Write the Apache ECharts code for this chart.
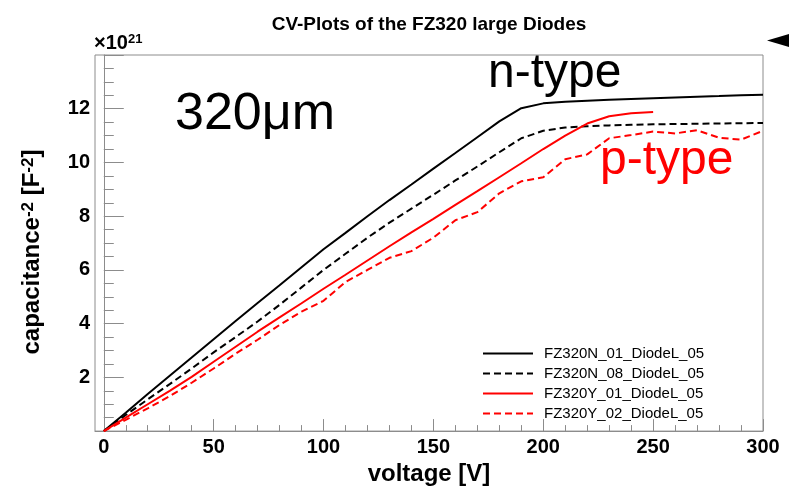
<!DOCTYPE html>
<html>
<head>
<meta charset="utf-8">
<script src="https://cdn.jsdelivr.net/npm/echarts@6/dist/echarts.min.js"></script>
<style>html,body{margin:0;padding:0;background:#fff;}#c{width:789px;height:491px;}</style>
</head>
<body>
<div id="c"></div>
<script>
// voltage grid [V]
var voltage = [0,10,20,30,40,50,60,70,80,90,100,110,120,130,140,150,160,170,180,190,200,210,220,230,240,250,260,270,280,290,300];
var voltageY01 = [0,10,20,30,40,50,60,70,80,90,100,110,120,130,140,150,160,170,180,190,200,210,220,230,240,250];
// capacitance^-2 in units of 1e21 F^-2
var n01 = [0,0.68,1.38,2.06,2.74,3.42,4.1,4.77,5.43,6.1,6.77,7.38,8.0,8.6,9.18,9.77,10.35,10.94,11.53,12.02,12.2,12.26,12.3,12.33,12.36,12.39,12.42,12.45,12.47,12.5,12.52];
var n08 = [0,0.6,1.18,1.75,2.33,2.93,3.5,4.08,4.7,5.35,6.0,6.6,7.2,7.76,8.28,8.8,9.33,9.85,10.38,10.9,11.18,11.3,11.35,11.38,11.4,11.42,11.43,11.44,11.45,11.46,11.47];
var y01 = [0,0.5,1.0,1.5,2.02,2.58,3.14,3.7,4.23,4.76,5.3,5.82,6.35,6.88,7.4,7.9,8.42,8.93,9.45,9.97,10.5,11.0,11.45,11.72,11.83,11.88];
var y02 = [0,0.42,0.85,1.3,1.8,2.33,2.88,3.4,3.95,4.45,4.85,5.55,6.0,6.45,6.7,7.2,7.85,8.15,8.85,9.3,9.45,10.12,10.3,10.9,11.02,11.15,11.08,11.2,10.92,10.85,11.18];
var seriesNames = ['FZ320N_01_DiodeL_05','FZ320N_08_DiodeL_05','FZ320Y_01_DiodeL_05','FZ320Y_02_DiodeL_05'];
var xMajor = [0,50,100,150,200,250,300];
var xMinor = [10,20,30,40,60,70,80,90,110,120,130,140,160,170,180,190,210,220,230,240,260,270,280,290];
var yLabels = [2,4,6,8,10,12];

function pairs(xs, ys){ return ys.map(function(v,i){ return [xs[i], v]; }); }

var FONT = 'Liberation Sans';
var GREY = '#8c8c8c';
var chart = echarts.init(document.getElementById('c'), null, {renderer:'canvas'});

function mk(name, xs, ys, color, dashed){
  return {
    name: name, type: 'line', xAxisIndex: 0, yAxisIndex: 0,
    data: pairs(xs, ys), showSymbol: false, symbol: 'none', smooth: false,
    lineStyle: {color: color, width: 2, type: dashed ? [7,4] : 'solid'},
    itemStyle: {color: color},
    emphasis: {disabled: true}
  };
}

chart.setOption({
  animation: false,
  backgroundColor: '#fff',
  title: {
    text: 'CV-Plots of the FZ320 large Diodes',
    left: 424, top: 10, textAlign: 'center',
    textStyle: {fontFamily: FONT, fontWeight: 'bold', fontSize: 19, color: '#000'}
  },
  grid: {left: 95, top: 55, right: 26, bottom: 51, show: true, borderColor: GREY, borderWidth: 1, backgroundColor: 'transparent'},
  legend: {
    orient: 'vertical', left: 482, top: 346, padding: 0,
    itemWidth: 50, itemHeight: 14, itemGap: 5,
    selectedMode: false,
    itemStyle: {opacity: 0},
    textStyle: {fontFamily: FONT, fontSize: 15, color: '#000', padding: [0,0,0,6]},
    data: seriesNames
  },
  xAxis: [{
    type: 'value', min: -4, max: 300, position: 'bottom',
    axisLine: {show: true, lineStyle: {color: GREY, width: 1}},
    axisTick: {show: true, inside: true, length: 12, customValues: xMajor, lineStyle: {color: GREY}},
    axisLabel: {customValues: xMajor, fontFamily: FONT, fontWeight: 'bold', fontSize: 20, color: '#000', margin: 6},
    splitLine: {show: false},
    name: 'voltage [V]', nameLocation: 'middle', nameGap: 19,
    nameTextStyle: {fontFamily: FONT, fontWeight: 'bold', fontSize: 24, color: '#000', verticalAlign: 'top'}
  },{
    type: 'value', min: -4, max: 300, position: 'bottom',
    axisLine: {show: false},
    axisTick: {show: true, inside: true, length: 6, customValues: xMinor, lineStyle: {color: GREY}},
    axisLabel: {show: false},
    splitLine: {show: false}
  }],
  yAxis: {
    type: 'value', min: 0, max: 14, interval: 2,
    axisLine: {show: true, lineStyle: {color: GREY, width: 1}},
    axisTick: {show: true, inside: true, length: 20, lineStyle: {color: GREY}},
    minorTick: {show: true, splitNumber: 4, length: 10, lineStyle: {color: GREY}},
    axisLabel: {
      fontFamily: FONT, fontWeight: 'bold', fontSize: 20, color: '#000', margin: 5,
      formatter: function(v){ return yLabels.indexOf(v) >= 0 ? String(v) : ''; }
    },
    splitLine: {show: false},
    name: '{a|capacitance}{s|-2}{a| [F}{s|-2}{a|]}',
    nameLocation: 'middle', nameGap: 51, nameRotate: 90,
    nameTextStyle: {
      fontFamily: FONT, fontWeight: 'bold', fontSize: 24, color: '#000',
      padding: [0, 18, 0, 0],
      rich: {
        a: {fontFamily: FONT, fontWeight: 'bold', fontSize: 24, color: '#000', verticalAlign: 'bottom'},
        s: {fontFamily: FONT, fontWeight: 'bold', fontSize: 17, color: '#000', verticalAlign: 'top'}
      }
    }
  },
  graphic: [
    {type: 'text', left: 94, top: 33, style: {
      text: '{a|×10}{s|21}', fontFamily: FONT,
      rich: {
        a: {fontFamily: FONT, fontSize: 20, fontWeight: 'bold', color: '#000', verticalAlign: 'bottom'},
        s: {fontFamily: FONT, fontSize: 13, fontWeight: 'bold', color: '#000', verticalAlign: 'top'}
      }}},
    {type: 'text', x: 175, y: 115, style: {text: '320μm', fontFamily: FONT, fontSize: 52, fill: '#000', verticalAlign: 'middle'}},
    {type: 'text', x: 488, y: 74, style: {text: 'n-type', fontFamily: FONT, fontSize: 48, fill: '#000', verticalAlign: 'middle'}},
    {type: 'text', x: 600, y: 161, style: {text: 'p-type', fontFamily: FONT, fontSize: 48, fill: '#ff0000', verticalAlign: 'middle'}},
    {type: 'polygon', shape: {points: [[767,40.5],[789,34],[789,47]]}, style: {fill: '#000'}}
  ],
  series: [
    mk(seriesNames[0], voltage, n01, '#000000', false),
    mk(seriesNames[1], voltage, n08, '#000000', true),
    mk(seriesNames[2], voltageY01, y01, '#ff0000', false),
    mk(seriesNames[3], voltage, y02, '#ff0000', true)
  ]
});
</script>
</body>
</html>
